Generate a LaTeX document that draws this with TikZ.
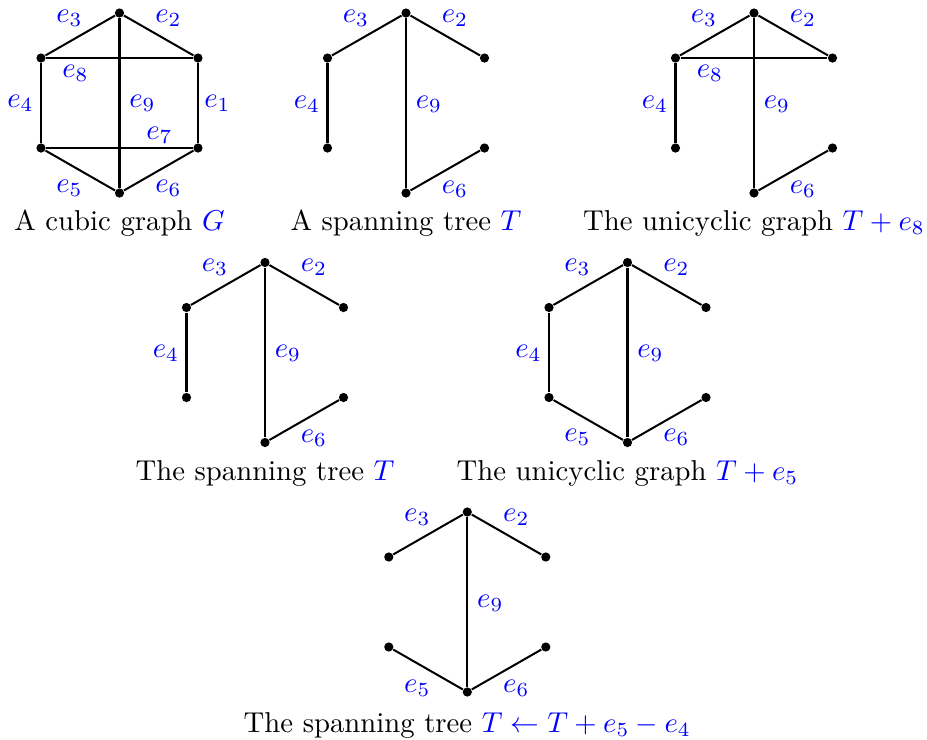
\documentclass[tikz,border=0pt]{standalone}
\tikzset{
  vtx/.style={circle,fill=black,inner sep=0pt,minimum size=3.2pt},
  ed/.style={line width=0.7pt},
  lab/.style={text=blue,inner sep=0pt},
  captxt/.style={anchor=base,inner sep=0pt}
}
\newcommand\hexverts{%
  \node[vtx] (t) at (0,-90) {};
  \node[vtx] (ul) at (-78.5,-45) {};
  \node[vtx] (ur) at (78.5,-45) {};
  \node[vtx] (ll) at (-78.5,45) {};
  \node[vtx] (lr) at (78.5,45) {};
  \node[vtx] (b) at (0,90) {};
}
\begin{document}
\begin{tikzpicture}[x=0.348pt,y=-0.348pt]
\useasboundingbox (0,0) rectangle (927,739);
% Graph 1
\begin{scope}[shift={(119.5,103)},name prefix=ga-]
  \hexverts
  \draw[ed] (t) -- (ul); \draw[ed] (t) -- (ur); \draw[ed] (ul) -- (ur);
  \draw[ed] (ul) -- (ll); \draw[ed] (ur) -- (lr); \draw[ed] (t) -- (b);
  \draw[ed] (ll) -- (lr); \draw[ed] (ll) -- (b); \draw[ed] (b) -- (lr);
  \node[lab] (l3) at (-50,-85) {$e_3$};
  \node[lab] (l2) at (49,-85) {$e_2$};
  \node[lab] (l8) at (-44,-30) {$e_8$};
  \node[lab] (l4) at (-99,0) {$e_4$};
  \node[lab] (l9) at (23,0) {$e_9$};
  \node[lab] (l1) at (98,0) {$e_1$};
  \node[lab] (l7) at (40,32) {$e_7$};
  \node[lab] (l5) at (-50,85) {$e_5$};
  \node[lab] (l6) at (49,85) {$e_6$};
  \node[captxt] (c) at (0,127) {A cubic graph \textcolor{blue}{$G$}};
\end{scope}
% Graph 2
\begin{scope}[shift={(406,103)},name prefix=gb-]
  \hexverts
  \draw[ed] (t) -- (ul); \draw[ed] (t) -- (ur);
  \draw[ed] (ul) -- (ll); \draw[ed] (t) -- (b); \draw[ed] (b) -- (lr);
  \node[lab] (l3) at (-50,-85) {$e_3$};
  \node[lab] (l2) at (49,-85) {$e_2$};
  \node[lab] (l4) at (-99,1) {$e_4$};
  \node[lab] (l9) at (23,1) {$e_9$};
  \node[lab] (l6) at (49,86) {$e_6$};
  \node[captxt] (c) at (0,127) {A spanning tree \textcolor{blue}{$T$}};
\end{scope}
% Graph 3
\begin{scope}[shift={(754,103)},name prefix=gc-]
  \hexverts
  \draw[ed] (t) -- (ul); \draw[ed] (t) -- (ur); \draw[ed] (ul) -- (ur);
  \draw[ed] (ul) -- (ll); \draw[ed] (t) -- (b); \draw[ed] (b) -- (lr);
  \node[lab] (l3) at (-50,-85) {$e_3$};
  \node[lab] (l2) at (49,-85) {$e_2$};
  \node[lab] (l8) at (-44,-30) {$e_8$};
  \node[lab] (l4) at (-99,1) {$e_4$};
  \node[lab] (l9) at (23,1) {$e_9$};
  \node[lab] (l6) at (49,86) {$e_6$};
  \node[captxt] (c) at (0,127) {The unicyclic graph \textcolor{blue}{$T+e_8$}};
\end{scope}
% Graph 4
\begin{scope}[shift={(265,352.5)},name prefix=gd-]
  \hexverts
  \draw[ed] (t) -- (ul); \draw[ed] (t) -- (ur);
  \draw[ed] (ul) -- (ll); \draw[ed] (t) -- (b); \draw[ed] (b) -- (lr);
  \node[lab] (l3) at (-50,-85) {$e_3$};
  \node[lab] (l2) at (49,-85) {$e_2$};
  \node[lab] (l4) at (-99,1) {$e_4$};
  \node[lab] (l9) at (23,1) {$e_9$};
  \node[lab] (l6) at (49,86) {$e_6$};
  \node[captxt] (c) at (0,127.5) {The spanning tree \textcolor{blue}{$T$}};
\end{scope}
% Graph 5
\begin{scope}[shift={(627.5,352.5)},name prefix=ge-]
  \hexverts
  \draw[ed] (t) -- (ul); \draw[ed] (t) -- (ur);
  \draw[ed] (ul) -- (ll); \draw[ed] (ll) -- (b); \draw[ed] (t) -- (b); \draw[ed] (b) -- (lr);
  \node[lab] (l3) at (-50,-85) {$e_3$};
  \node[lab] (l2) at (49,-85) {$e_2$};
  \node[lab] (l4) at (-99,1) {$e_4$};
  \node[lab] (l9) at (23,1) {$e_9$};
  \node[lab] (l5) at (-50,85) {$e_5$};
  \node[lab] (l6) at (49,85) {$e_6$};
  \node[captxt] (c) at (0,127.5) {The unicyclic graph \textcolor{blue}{$T+e_5$}};
\end{scope}
% Graph 6
\begin{scope}[shift={(467.3,602)},name prefix=gf-]
  \hexverts
  \draw[ed] (t) -- (ul); \draw[ed] (t) -- (ur);
  \draw[ed] (ll) -- (b); \draw[ed] (t) -- (b); \draw[ed] (b) -- (lr);
  \node[lab] (l3) at (-50,-85) {$e_3$};
  \node[lab] (l2) at (49,-85) {$e_2$};
  \node[lab] (l9) at (23,1) {$e_9$};
  \node[lab] (l5) at (-50,86) {$e_5$};
  \node[lab] (l6) at (49,86) {$e_6$};
  \node[captxt] (c) at (0,130) {The spanning tree \textcolor{blue}{$T \leftarrow T+e_5-e_4$}};
\end{scope}
\end{tikzpicture}
\end{document}
